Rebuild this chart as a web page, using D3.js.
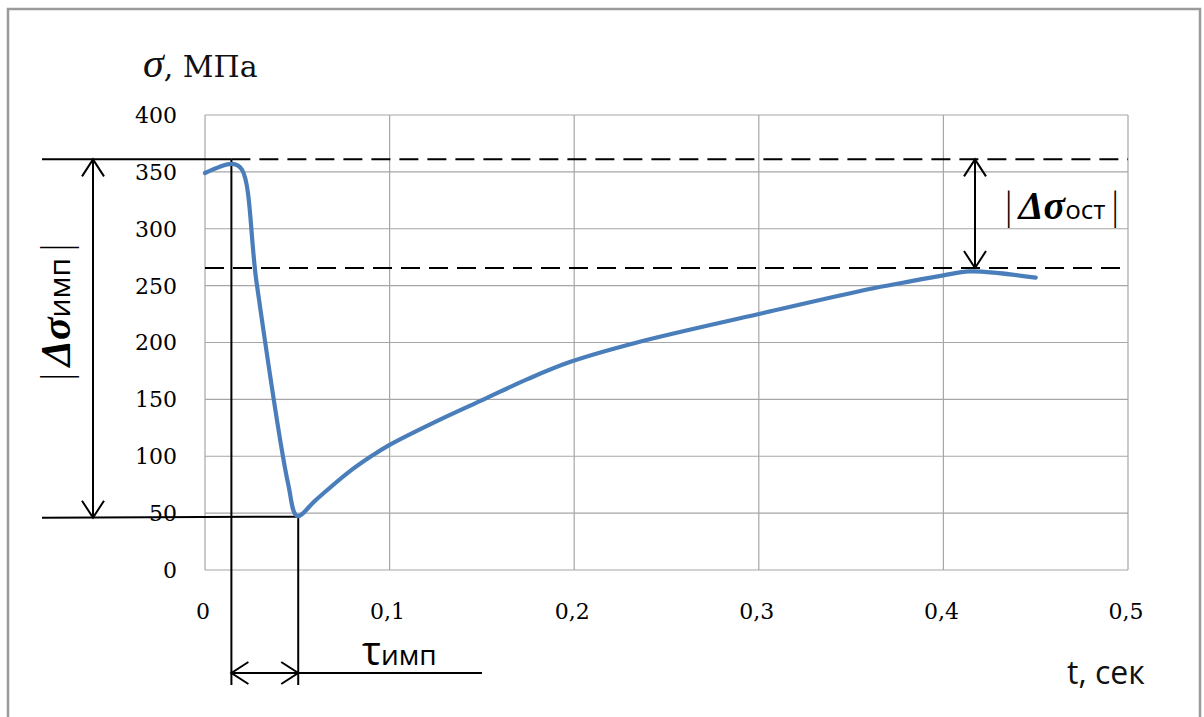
<!DOCTYPE html>
<html><head><meta charset="utf-8">
<script src="https://cdn.jsdelivr.net/npm/d3@7"></script>
<style>body{margin:0;background:#fff}svg{display:block}</style>
</head><body>
<svg id="c" width="1204" height="717"></svg>
<script>
// ---- data ----
const timeSec = [0, 0.015, 0.020, 0.028, 0.045, 0.050, 0.060, 0.077, 0.091, 0.100, 0.127, 0.151, 0.175, 0.198, 0.234, 0.300, 0.360, 0.378, 0.400, 0.414, 0.430, 0.450];
const stressMPa = [349, 357, 352, 252, 76, 47.5, 61.5, 85, 101, 110, 132, 150, 168, 183, 200, 225, 247, 252.5, 259, 262.5, 261, 257];
const xTicks = [0, 0.1, 0.2, 0.3, 0.4, 0.5];
const xTickLabels = ["0", "0,1", "0,2", "0,3", "0,4", "0,5"];
const yTicks = [0, 50, 100, 150, 200, 250, 300, 350, 400];
// annotation levels (MPa) and times (s)
const peakLevel = 361, residualLevel = 265.5, minLevel = 46;
const peakTime = 0.0143, minTime = 0.0505;

const svg = d3.select("#c");
const m = {l: 205, t: 115, r: 1128, b: 570};
const x = d3.scaleLinear().domain([0, 0.5]).range([m.l, m.r]);
const y = d3.scaleLinear().domain([0, 400]).range([m.b, m.t]);

// outer frame
svg.append("rect").attr("x", 8).attr("y", 9).attr("width", 1192).attr("height", 720)
  .attr("fill", "none").attr("stroke", "#9a9a9a").attr("stroke-width", 2.5);

// grid
const g = svg.append("g");
g.selectAll(".gy").data(yTicks).join("line")
  .attr("x1", m.l).attr("x2", m.r).attr("y1", d => y(d)).attr("y2", d => y(d))
  .attr("stroke", "#a6a6a6").attr("stroke-width", 1.2);
g.selectAll(".gx").data(xTicks).join("line")
  .attr("y1", m.t).attr("y2", m.b).attr("x1", d => x(d)).attr("x2", d => x(d))
  .attr("stroke", "#a6a6a6").attr("stroke-width", 1.2);

// tick labels
const serif = "'DejaVu Serif', serif";
svg.selectAll(".yl").data(yTicks).join("text")
  .attr("x", m.l - 28).attr("y", d => y(d)).attr("dy", "0.36em")
  .attr("text-anchor", "end").attr("font-family", serif).attr("font-size", 22)
  .attr("fill", "#000").text(d => d);
svg.selectAll(".xl").data(xTicks).join("text")
  .attr("x", d => x(d) - 2).attr("y", m.b + 49)
  .attr("text-anchor", "middle").attr("font-family", serif).attr("font-size", 22)
  .attr("fill", "#000").text((d, i) => xTickLabels[i]);

// axis titles
const yt = svg.append("text").attr("x", 143).attr("y", 77).attr("font-family", serif).attr("fill", "#111");
yt.append("tspan").attr("font-style", "italic").attr("font-size", 42).attr("font-family", "'Liberation Serif', serif").text("σ");
yt.append("tspan").attr("font-size", 30).text(", МПа");
svg.append("text").attr("x", 1067).attr("y", 684).attr("font-family", "'Open Sans', sans-serif")
  .attr("font-size", 32).attr("fill", "#111").text("t, сек");

// annotation lines
const ann = svg.append("g").attr("stroke", "#000").attr("stroke-width", 2).attr("fill", "none");
ann.append("line").attr("x1", x(0) - 163).attr("x2", x(peakTime)).attr("y1", y(peakLevel)).attr("y2", y(peakLevel));
ann.append("line").attr("x1", x(peakTime)).attr("x2", m.r).attr("y1", y(peakLevel)).attr("y2", y(peakLevel)).attr("stroke-dasharray", "19 9");
ann.append("line").attr("x1", m.l).attr("x2", m.r).attr("y1", y(residualLevel)).attr("y2", y(residualLevel)).attr("stroke-dasharray", "19 9");
ann.append("line").attr("x1", x(0) - 163).attr("x2", x(minTime)).attr("y1", y(minLevel)).attr("y2", y(minLevel) - 1);
ann.append("line").attr("x1", x(peakTime)).attr("x2", x(peakTime)).attr("y1", y(peakLevel)).attr("y2", 685);
ann.append("line").attr("x1", x(minTime)).attr("x2", x(minTime)).attr("y1", y(minLevel) - 2).attr("y2", 685);
ann.append("line").attr("x1", x(minTime)).attr("x2", 482).attr("y1", 673).attr("y2", 673);

function vArrow(xp, y1, y2) {
  ann.append("line").attr("x1", xp).attr("x2", xp).attr("y1", y1).attr("y2", y2);
  ann.append("polyline").attr("points", `${xp-11},${y1+17} ${xp},${y1} ${xp+11},${y1+17}`);
  ann.append("polyline").attr("points", `${xp-11},${y2-17} ${xp},${y2} ${xp+11},${y2-17}`);
}
function hArrow(yp, x1, x2) {
  ann.append("line").attr("x1", x1).attr("x2", x2).attr("y1", yp).attr("y2", yp);
  ann.append("polyline").attr("points", `${x1+17},${yp-11} ${x1},${yp} ${x1+17},${yp+11}`);
  ann.append("polyline").attr("points", `${x2-17},${yp-11} ${x2},${yp} ${x2-17},${yp+11}`);
}
vArrow(93, y(peakLevel), y(minLevel));
vArrow(975, y(peakLevel), y(residualLevel));
hArrow(673, x(peakTime), x(minTime));

// curve
const line = d3.line().x((d, i) => x(timeSec[i])).y(d => y(d)).curve(d3.curveCatmullRom.alpha(0.5));
svg.append("path").datum(stressMPa).attr("d", line)
  .attr("fill", "none").attr("stroke", "#4a7ebb").attr("stroke-width", 4.2)
  .attr("stroke-linejoin", "round").attr("stroke-linecap", "round");

// labels
const sans = "'Open Sans', sans-serif";
const mathSerif = "'Liberation Serif', serif";
const lab1 = svg.append("text").attr("transform", "translate(70,387) rotate(-90)").attr("fill", "#000");
lab1.append("tspan").attr("font-family", sans).attr("font-size", 38).attr("font-weight", 300).text("|");
lab1.append("tspan").attr("font-family", mathSerif).attr("font-style", "italic").attr("font-weight", "bold").attr("font-size", 42).text("Δσ");
lab1.append("tspan").attr("font-family", sans).attr("font-size", 30).text("имп");
lab1.append("tspan").attr("font-family", sans).attr("font-size", 38).attr("font-weight", 300).text("|");

const lab2 = svg.append("text").attr("x", 999).attr("y", 219).attr("fill", "#000");
lab2.append("tspan").attr("font-family", sans).attr("font-size", 36).attr("font-weight", 300).text("|");
lab2.append("tspan").attr("font-family", mathSerif).attr("font-style", "italic").attr("font-weight", "bold").attr("font-size", 40).text("Δσ");
lab2.append("tspan").attr("font-family", sans).attr("font-size", 26).text("ост");
lab2.append("tspan").attr("font-family", sans).attr("font-size", 36).attr("font-weight", 300).text("|");

const lab3 = svg.append("text").attr("x", 362).attr("y", 665).attr("fill", "#000").attr("font-family", sans);
lab3.append("tspan").attr("font-size", 40).text("τ");
lab3.append("tspan").attr("font-size", 28).text("имп");
</script>
</body></html>
